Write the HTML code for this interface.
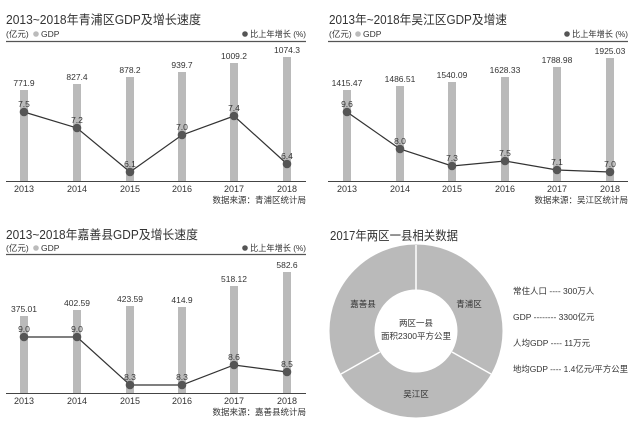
<!DOCTYPE html><html><head><meta charset="utf-8"><style>body{margin:0;background:#fff}svg{display:block}text{font-family:"Liberation Sans","Noto Sans CJK SC",sans-serif;fill:#333}</style></head><body>
<svg width="638" height="441" viewBox="0 0 638 441">
<g id="c1">
<text x="6" y="24" font-size="12.5" textLength="195" lengthAdjust="spacingAndGlyphs">2013~2018年青浦区GDP及增长速度</text>
<text x="6" y="37" font-size="8.5" fill="#666">(亿元)</text><circle cx="36" cy="34" r="2.8" fill="#bbb"/><text x="41" y="37" font-size="8.5" fill="#666">GDP</text>
<circle cx="245" cy="34" r="2.8" fill="#555"/><text x="306" y="37" font-size="8.5" text-anchor="end" fill="#666" textLength="56" lengthAdjust="spacingAndGlyphs">比上年增长 (%)</text>
<line x1="6" y1="41.5" x2="306" y2="41.5" stroke="#555" stroke-width="1.2"/>
<g fill="#bababa"><rect x="20" y="90" width="8" height="91"/><rect x="73" y="84" width="8" height="97"/><rect x="126" y="77" width="8" height="104"/><rect x="178" y="72" width="8" height="109"/><rect x="230" y="63" width="8" height="118"/><rect x="283" y="57" width="8" height="124"/></g>
<line x1="6" y1="181.5" x2="306" y2="181.5" stroke="#444"/>
<g font-size="8.5" text-anchor="middle"><text x="24" y="86">771.9</text><text x="77" y="80">827.4</text><text x="130" y="73">878.2</text><text x="182" y="68">939.7</text><text x="234" y="59">1009.2</text><text x="287" y="53">1074.3</text>
<text x="24" y="107">7.5</text><text x="77" y="123">7.2</text><text x="130" y="167">6.1</text><text x="182" y="130">7.0</text><text x="234" y="111">7.4</text><text x="287" y="159">6.4</text></g>
<polyline points="24,112 77,128 130,172 182,135 234,116 287,164" fill="none" stroke="#333" stroke-width="1.2"/>
<g fill="#555"><circle cx="24" cy="112" r="4.3"/><circle cx="77" cy="128" r="4.3"/><circle cx="130" cy="172" r="4.3"/><circle cx="182" cy="135" r="4.3"/><circle cx="234" cy="116" r="4.3"/><circle cx="287" cy="164" r="4.3"/></g>
<g font-size="9" text-anchor="middle" fill="#555"><text x="24" y="192">2013</text><text x="77" y="192">2014</text><text x="130" y="192">2015</text><text x="182" y="192">2016</text><text x="234" y="192">2017</text><text x="287" y="192">2018</text></g>
<text x="306" y="203" font-size="8.5" text-anchor="end">数据来源：青浦区统计局</text>
</g>
<g id="c2">
<text x="329" y="24" font-size="12.5" textLength="178" lengthAdjust="spacingAndGlyphs">2013年~2018年吴江区GDP及增速</text>
<text x="329" y="37" font-size="8.5" fill="#666">(亿元)</text><circle cx="358" cy="34" r="2.8" fill="#bbb"/><text x="363" y="37" font-size="8.5" fill="#666">GDP</text>
<circle cx="567" cy="34" r="2.8" fill="#555"/><text x="628" y="37" font-size="8.5" text-anchor="end" fill="#666" textLength="56" lengthAdjust="spacingAndGlyphs">比上年增长 (%)</text>
<line x1="328" y1="41.5" x2="628" y2="41.5" stroke="#555" stroke-width="1.2"/>
<g fill="#bababa"><rect x="343" y="90" width="8" height="91"/><rect x="396" y="86" width="8" height="95"/><rect x="448" y="82" width="8" height="99"/><rect x="501" y="77" width="8" height="104"/><rect x="553" y="67" width="8" height="114"/><rect x="606" y="58" width="8" height="123"/></g>
<line x1="328" y1="181.5" x2="628" y2="181.5" stroke="#444"/>
<g font-size="8.5" text-anchor="middle"><text x="347" y="86">1415.47</text><text x="400" y="82">1486.51</text><text x="452" y="78">1540.09</text><text x="505" y="73">1628.33</text><text x="557" y="63">1788.98</text><text x="610" y="54">1925.03</text>
<text x="347" y="107">9.6</text><text x="400" y="144">8.0</text><text x="452" y="161">7.3</text><text x="505" y="156">7.5</text><text x="557" y="165">7.1</text><text x="610" y="167">7.0</text></g>
<polyline points="347,112 400,149 452,166 505,161 557,170 610,172" fill="none" stroke="#333" stroke-width="1.2"/>
<g fill="#555"><circle cx="347" cy="112" r="4.3"/><circle cx="400" cy="149" r="4.3"/><circle cx="452" cy="166" r="4.3"/><circle cx="505" cy="161" r="4.3"/><circle cx="557" cy="170" r="4.3"/><circle cx="610" cy="172" r="4.3"/></g>
<g font-size="9" text-anchor="middle" fill="#555"><text x="347" y="192">2013</text><text x="400" y="192">2014</text><text x="452" y="192">2015</text><text x="505" y="192">2016</text><text x="557" y="192">2017</text><text x="610" y="192">2018</text></g>
<text x="628" y="203" font-size="8.5" text-anchor="end">数据来源：吴江区统计局</text>
</g>
<g id="c3">
<text x="6" y="239" font-size="12.5" textLength="192" lengthAdjust="spacingAndGlyphs">2013~2018年嘉善县GDP及增长速度</text>
<text x="6" y="251" font-size="8.5" fill="#666">(亿元)</text><circle cx="36" cy="248" r="2.8" fill="#bbb"/><text x="41" y="251" font-size="8.5" fill="#666">GDP</text>
<circle cx="245" cy="248" r="2.8" fill="#555"/><text x="306" y="251" font-size="8.5" text-anchor="end" fill="#666" textLength="56" lengthAdjust="spacingAndGlyphs">比上年增长 (%)</text>
<line x1="6" y1="254.5" x2="306" y2="254.5" stroke="#555" stroke-width="1.2"/>
<g fill="#bababa"><rect x="20" y="316" width="8" height="77"/><rect x="73" y="310" width="8" height="83"/><rect x="126" y="306" width="8" height="87"/><rect x="178" y="307" width="8" height="86"/><rect x="230" y="286" width="8" height="107"/><rect x="283" y="272" width="8" height="121"/></g>
<line x1="6" y1="393.5" x2="306" y2="393.5" stroke="#444"/>
<g font-size="8.5" text-anchor="middle"><text x="24" y="312">375.01</text><text x="77" y="306">402.59</text><text x="130" y="302">423.59</text><text x="182" y="303">414.9</text><text x="234" y="282">518.12</text><text x="287" y="268">582.6</text>
<text x="24" y="332">9.0</text><text x="77" y="332">9.0</text><text x="130" y="380">8.3</text><text x="182" y="380">8.3</text><text x="234" y="360">8.6</text><text x="287" y="367">8.5</text></g>
<polyline points="24,337 77,337 130,385 182,385 234,365 287,372" fill="none" stroke="#333" stroke-width="1.2"/>
<g fill="#555"><circle cx="24" cy="337" r="4.3"/><circle cx="77" cy="337" r="4.3"/><circle cx="130" cy="385" r="4.3"/><circle cx="182" cy="385" r="4.3"/><circle cx="234" cy="365" r="4.3"/><circle cx="287" cy="372" r="4.3"/></g>
<g font-size="9" text-anchor="middle" fill="#555"><text x="24" y="404">2013</text><text x="77" y="404">2014</text><text x="130" y="404">2015</text><text x="182" y="404">2016</text><text x="234" y="404">2017</text><text x="287" y="404">2018</text></g>
<text x="306" y="415" font-size="8.5" text-anchor="end">数据来源：嘉善县统计局</text>
</g>
<g id="pie">
<text x="330" y="240" font-size="12.5" textLength="128" lengthAdjust="spacingAndGlyphs">2017年两区一县相关数据</text>
<circle cx="416" cy="331" r="64" fill="none" stroke="#bababa" stroke-width="45"/>
<g stroke="#fff" stroke-width="1.5"><line x1="416" y1="245" x2="416" y2="290"/><line x1="380" y1="352" x2="341" y2="374"/><line x1="452" y1="352" x2="491" y2="374"/></g>
<g font-size="8.5" text-anchor="middle"><text x="363" y="307">嘉善县</text><text x="469" y="307">青浦区</text><text x="416" y="397">吴江区</text><text x="416" y="326">两区一县</text><text x="416" y="339">面积2300平方公里</text></g>
<g font-size="8.5" fill="#444"><text x="513" y="294">常住人口 ---- 300万人</text><text x="513" y="320">GDP -------- 3300亿元</text><text x="513" y="346">人均GDP ---- 11万元</text><text x="513" y="372" textLength="115" lengthAdjust="spacingAndGlyphs">地均GDP ---- 1.4亿元/平方公里</text></g>
</g>
</svg></body></html>
